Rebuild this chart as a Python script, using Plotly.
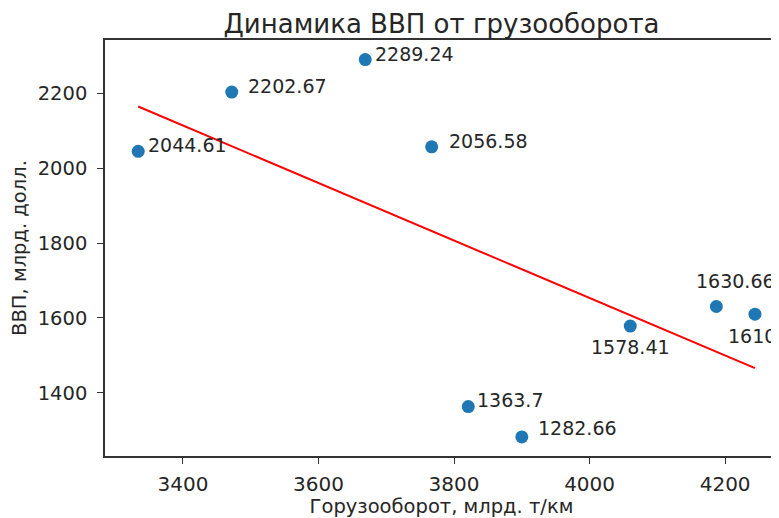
import plotly.graph_objects as go

# Data
freight = [3334, 3472, 3669, 3767, 3821, 3900, 4060, 4187, 4244]
gdp = [2044.61, 2202.67, 2289.24, 2056.58, 1363.7, 1282.66, 1578.41, 1630.66, 1610]
labels = ["2044.61", "2202.67", "2289.24", "2056.58", "1363.7", "1282.66", "1578.41", "1630.66", "1610"]
trend_x = [3334, 4244]
trend_y = [2164, 1466]
x_ticks = [3400, 3600, 3800, 4000, 4200]
y_ticks = [1400, 1600, 1800, 2000, 2200]

# label placement (pixels)
lab_dx = [8, 14, 8, 15, 7, 14, 0, 19, -3]
lab_dy = [6, 6, 6, 6, 7, 9, -21, 25, -22]
lab_anchor = ["left", "left", "left", "left", "left", "left", "center", "center", "center"]

FONT = "DejaVu Sans"
TXT = "#262626"
fig = go.Figure()
fig.add_trace(go.Scatter(x=freight, y=gdp, mode="markers",
                         marker=dict(color="#1f77b4", size=13, line=dict(width=0)),
                         showlegend=False, hoverinfo="skip"))
fig.add_trace(go.Scatter(x=trend_x, y=trend_y, mode="lines",
                         line=dict(color="red", width=2), showlegend=False, hoverinfo="skip"))

for x, y, t, dx, dy, a in zip(freight, gdp, labels, lab_dx, lab_dy, lab_anchor):
    fig.add_annotation(x=x, y=y, text=t, showarrow=False, xanchor=a, yanchor="middle",
                       xshift=dx, yshift=dy, font=dict(family=FONT, size=19, color=TXT))

# page body has an 8px margin, so the figure is 8px smaller than the window
fig.update_layout(
    width=771, height=510,
    margin=dict(l=97, r=1, t=32, b=62),
    paper_bgcolor="white", plot_bgcolor="white",
    title=dict(text="Динамика ВВП от грузооборота", x=0.5623, xanchor="center",
               y=0.9686, yanchor="middle", pad=dict(t=0, b=0),
               font=dict(family=FONT, size=26, color=TXT)),
    font=dict(family=FONT, size=19, color=TXT),
)
fig.update_xaxes(range=[3285, 4278], tickvals=x_ticks, ticktext=[str(v) for v in x_ticks],
                 showgrid=False, zeroline=False, showline=True, linecolor="#333333", linewidth=1.5,
                 mirror=True, ticks="outside", ticklen=6, tickcolor="#333333", tickwidth=1.2,
                 ticklabelstandoff=3,
                 tickfont=dict(family=FONT, size=20, color=TXT),
                 title=dict(text="Горузооборот, млрд. т/км", standoff=6,
                            font=dict(family=FONT, size=19.5, color=TXT)))
fig.update_yaxes(range=[1231.8, 2341.5], tickvals=y_ticks, ticktext=[str(v) for v in y_ticks],
                 showgrid=False, zeroline=False, showline=True, linecolor="#333333", linewidth=1.5,
                 mirror=False, ticks="outside", ticklen=6, tickcolor="#333333", tickwidth=1.2,
                 ticklabelstandoff=6,
                 tickfont=dict(family=FONT, size=19.5, color=TXT),
                 title=dict(text="ВВП, млрд. долл.", standoff=14,
                            font=dict(family=FONT, size=19.5, color=TXT)))

fig.write_html("out.html")
